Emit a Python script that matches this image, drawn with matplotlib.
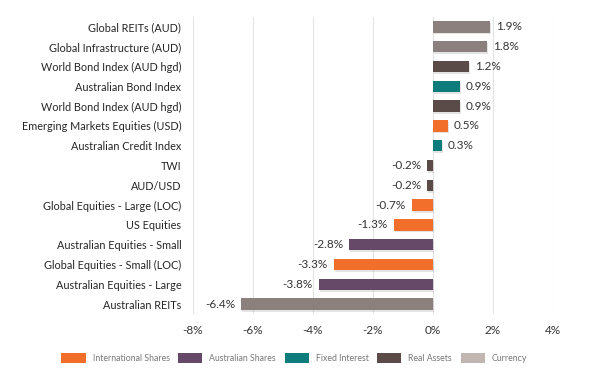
import matplotlib
matplotlib.use("Agg")
import matplotlib.pyplot as plt
import matplotlib.patches as mpatches
import matplotlib.patheffects as pe

categories = [
    "Global REITs (AUD)",
    "Global Infrastructure (AUD)",
    "World Bond Index (AUD hgd)",
    "Australian Bond Index",
    "World Bond Index (AUD hgd)",
    "Emerging Markets Equities (USD)",
    "Australian Credit Index",
    "TWI",
    "AUD/USD",
    "Global Equities - Large (LOC)",
    "US Equities",
    "Australian Equities - Small",
    "Global Equities - Small (LOC)",
    "Australian Equities - Large",
    "Australian REITs",
]
values = [1.9, 1.8, 1.2, 0.9, 0.9, 0.5, 0.3, -0.2, -0.2, -0.7, -1.3, -2.8, -3.3, -3.8, -6.4]
groups = ["Global", "Global", "Real Assets", "Fixed Interest", "Real Assets",
          "International Shares", "Fixed Interest", "Real Assets", "Real Assets",
          "International Shares", "International Shares", "Australian Shares",
          "International Shares", "Australian Shares", "Global"]
legend_labels = ["International Shares", "Australian Shares", "Fixed Interest", "Real Assets", "Currency"]
x_ticks = [-8, -6, -4, -2, 0, 2, 4]

colors = {
    "International Shares": "#f26f2b",
    "Australian Shares": "#664868",
    "Fixed Interest": "#0e7c7a",
    "Real Assets": "#5a4b48",
    "Currency": "#c2b6b3",
    "Global": "#8b807d",
}

plt.rcParams['font.family'] = ['Lato', 'DejaVu Sans']

fig = plt.figure(figsize=(6.02, 3.71), dpi=100)
ax = fig.add_axes([0.3206, 0.1536, 0.598, 0.8006])

ypos = list(range(len(categories)))
bars = ax.barh(ypos, values, height=0.57,
               color=[colors[g] for g in groups], zorder=3)
for b in bars:
    b.set_path_effects([pe.SimplePatchShadow(offset=(0.8, -1.3), shadow_rgbFace='#888888', alpha=0.22),
                        pe.Normal()])

for y, v in zip(ypos, values):
    if v >= 0:
        ax.text(v + 0.2, y, f"{v:.1f}%", va='center', ha='left', fontsize=8.5, color='#333333')
    else:
        ax.text(v - 0.2, y, f"{v:.1f}%", va='center', ha='right', fontsize=8.5, color='#333333')

ax.set_xlim(-8, 4)
ax.set_ylim(len(categories) - 0.5, -0.5)
ax.set_yticks(ypos)
ax.set_yticklabels(categories, fontsize=7.8, color='#262626')
ax.set_xticks(x_ticks)
ax.set_xticklabels([f"{t}%" for t in x_ticks], fontsize=8.5, color='#333333')
ax.tick_params(length=0)
ax.tick_params(axis='y', pad=8.5)
ax.tick_params(axis='x', pad=8)
ax.grid(axis='x', color='#e3e3e3', linewidth=0.8, zorder=0)
for s in ax.spines.values():
    s.set_visible(False)

handles = [mpatches.Patch(facecolor=colors[l], edgecolor='none', label=l) for l in legend_labels]
fig.legend(handles=handles, loc='center', bbox_to_anchor=(0.489, 0.035), ncol=5, frameon=False,
           fontsize=6.3, labelcolor='#777777', handlelength=2.75, handleheight=1.55,
           handletextpad=0.8, columnspacing=1.0)

fig.savefig("out.png", dpi=100)
